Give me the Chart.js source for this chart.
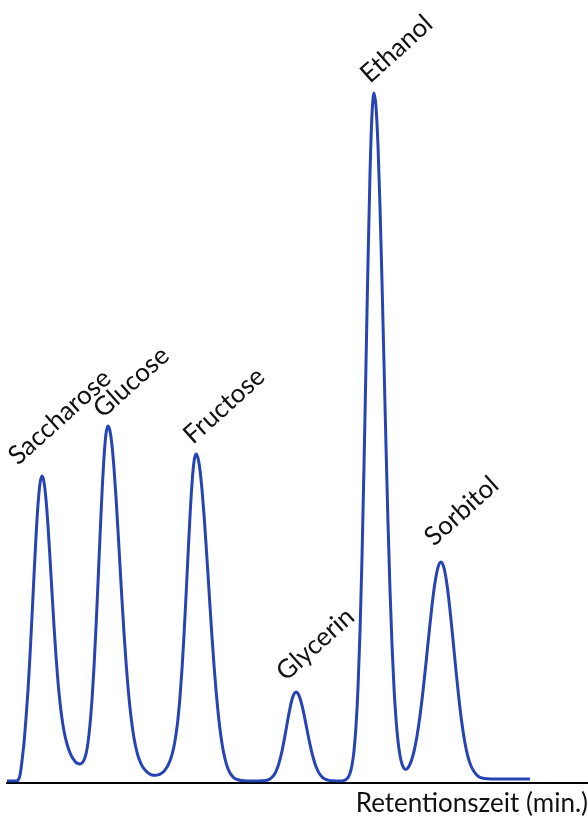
<!DOCTYPE html>
<html><head><meta charset="utf-8">
<script src="https://cdn.jsdelivr.net/npm/chart.js@4"></script>
<style>html,body{margin:0;padding:0;background:#fff}canvas{display:block}</style>
</head><body>
<canvas id="c" width="588" height="821"></canvas>
<script>
// Retention time (arbitrary min units)
const retentionTime = [
  0,1.0,1.1,1.2,1.3,1.4,1.5,1.6,1.7,
  1.9,2.1,2.3,2.5,2.7,2.9,3.1,3.3,3.5,3.7,
  3.9,4.1,4.3,4.5,4.7,4.9,5.1,5.3,5.5,5.7,
  5.9,6.1,6.3,6.5,6.7,6.9,7.1,7.3,7.5,7.7,
  7.9,8.1,8.3,8.5,8.7,8.9,9.1,9.3,9.5,9.7,
  9.9,10.1,10.3,10.5,10.7,10.9,11.1,11.3,11.5,11.7,
  11.9,12.1,12.3,12.5,12.7,12.9,13.1,13.3,13.5,13.7,
  13.9,14.1,14.3,14.5,14.7,14.9,15.1,15.3,15.5,15.7,
  15.9,16.1,16.3,16.5,16.7,16.9,17.1,17.3,17.5,17.7,
  17.9,18.1,18.3,18.5,18.7,18.9,19.1,19.3,19.5,19.7,
  19.9,20.1,20.3,20.5,20.7,20.9,21.1,21.3,21.5,21.7,
  21.9,22.1,22.3,22.5,22.7,22.9,23.1,23.3,23.5,
  23.9,24.3,25.6,25.9,
  26.1,26.3,26.5,26.7,26.9,27.1,27.3,27.5,27.7,27.9,
  28.1,28.3,28.5,28.7,28.9,29.1,29.3,29.5,29.7,29.9,
  30.1,30.3,30.5,30.7,30.9,31.1,31.3,31.5,31.7,31.9,
  32.2,32.5,32.9,33.6,
  33.7,33.9,34.1,34.3,34.5,34.7,34.9,35.1,35.3,35.5,
  35.7,35.9,36.1,36.3,36.5,36.7,36.9,37.1,37.3,37.5,
  37.7,37.9,38.1,38.3,38.5,38.7,38.9,39.1,39.3,39.5,
  39.7,39.9,40.1,40.3,40.5,40.7,
  41.0,41.3,41.6,41.9,42.2,42.5,42.8,43.1,43.4,43.7,44.0,
  44.3,44.6,44.9,45.2,45.5,45.8,46.1,46.4,46.7,47.0,47.3,
  47.7,48.4,52.3
];
// Detector signal (arbitrary units)
const signal = [
  0,0,0.08,0.25,0.6,1.2,2.0,2.9,3.8,
  6.28,9.09,12.54,16.45,20.55,24.43,27.63,29.76,30.5,29.9,
  28.15,25.51,22.29,18.85,15.51,12.48,9.92,7.85,6.24,5.0,
  4.08,3.37,2.82,2.39,2.1,1.85,1.75,1.7,1.8,2.1,
  2.7,3.84,5.63,8.13,11.39,15.36,19.81,24.43,28.78,32.36,
  34.72,35.5,35.0,33.55,31.27,28.36,25.03,21.53,18.07,14.82,
  11.92,9.4,7.31,5.64,4.31,3.3,2.53,1.96,1.54,1.23,
  1.0,0.81,0.68,0.6,0.57,0.57,0.61,0.69,0.81,0.98,
  1.25,1.58,2.03,2.64,3.48,4.65,6.24,8.39,11.18,14.58,
  18.46,22.56,26.48,29.75,31.93,32.7,32.28,31.07,29.14,26.64,
  23.74,20.63,17.47,14.41,11.6,9.09,6.95,5.18,3.76,2.66,
  1.83,1.23,0.81,0.52,0.32,0.2,0.12,0.07,0.04,
  0.01,0,0.02,0.06,
  0.12,0.21,0.37,0.61,0.97,1.48,2.16,3.0,4.01,5.11,
  6.24,7.29,8.15,8.7,8.9,8.74,8.28,7.56,6.66,5.66,
  4.63,3.66,2.79,2.05,1.45,0.99,0.65,0.41,0.25,0.15,
  0.06,0.03,0.01,0,
  0.06,0.15,0.35,0.76,1.57,3.02,5.48,9.31,14.9,22.34,
  31.51,41.73,51.94,60.72,66.68,68.8,67.44,63.52,57.47,49.95,
  41.73,33.52,25.8,19.11,13.63,9.31,6.2,3.99,2.56,1.7,
  1.27,1.17,1.31,1.68,2.23,2.96,
  4.51,6.53,9.0,11.82,14.75,17.54,19.84,21.37,21.9,21.31,19.62,
  17.1,14.11,11.02,8.15,5.7,3.78,2.4,1.5,0.95,0.58,0.36,
  0.26,0.21,0.2
];
const peakNames = ['Saccharose','Glucose','Fructose','Glycerin','Ethanol','Sorbitol'];
const peakTimes = [3.5,10.1,18.9,28.9,36.7,43.4];
const peakHeights = [30.5,35.5,32.7,8.9,68.8,21.9];
const axisTitle = 'Retentionszeit (min.)';

// label styling (pixel offsets from each peak apex to label start)
const labelStyle = {
  font: '26px Lato',
  color: '#111',
  angle: -42 * Math.PI / 180,
  offsets: [[-24,-10],[-5,-7],[-3,-9],[-10,-10],[-4,-9],[-7,-15]]
};

const peakLabels = {
  id: 'peakLabels',
  afterDatasetsDraw(chart) {
    const {ctx, scales: {x, y}} = chart;
    ctx.save();
    ctx.font = labelStyle.font;
    ctx.fillStyle = labelStyle.color;
    ctx.textAlign = 'left';
    ctx.textBaseline = 'alphabetic';
    peakNames.forEach((name, i) => {
      const px = x.getPixelForValue(peakTimes[i]) + labelStyle.offsets[i][0];
      const py = y.getPixelForValue(peakHeights[i]) + labelStyle.offsets[i][1];
      ctx.save();
      ctx.translate(px, py);
      ctx.rotate(labelStyle.angle);
      ctx.fillText(name, 0, 0);
      ctx.restore();
    });
    ctx.restore();
  }
};

new Chart(document.getElementById('c'), {
  type: 'line',
  data: {
    datasets: [{
      data: retentionTime.map((t, i) => ({x: t, y: signal[i]})),
      borderColor: '#2644b3',
      borderWidth: 3,
      pointRadius: 0,
      fill: false,
      cubicInterpolationMode: 'monotone'
    }]
  },
  options: {
    responsive: false,
    animation: false,
    devicePixelRatio: 1,
    layout: {padding: {left: 7, right: 0, top: 0, bottom: 0}},
    plugins: {legend: {display: false}, tooltip: {enabled: false}},
    scales: {
      x: {
        type: 'linear', min: 0, max: 58.1,
        grid: {display: false, drawTicks: false},
        border: {display: true, color: '#000', width: 2},
        ticks: {display: false},
        title: {
          display: true, text: axisTitle, align: 'end', color: '#111',
          font: {family: 'Lato', size: 26, lineHeight: 1.2},
          padding: {top: 5.9, bottom: 1.4}
        }
      },
      y: {display: false, min: -0.15, max: 78.1}
    }
  },
  plugins: [peakLabels]
});
</script>
</body></html>
